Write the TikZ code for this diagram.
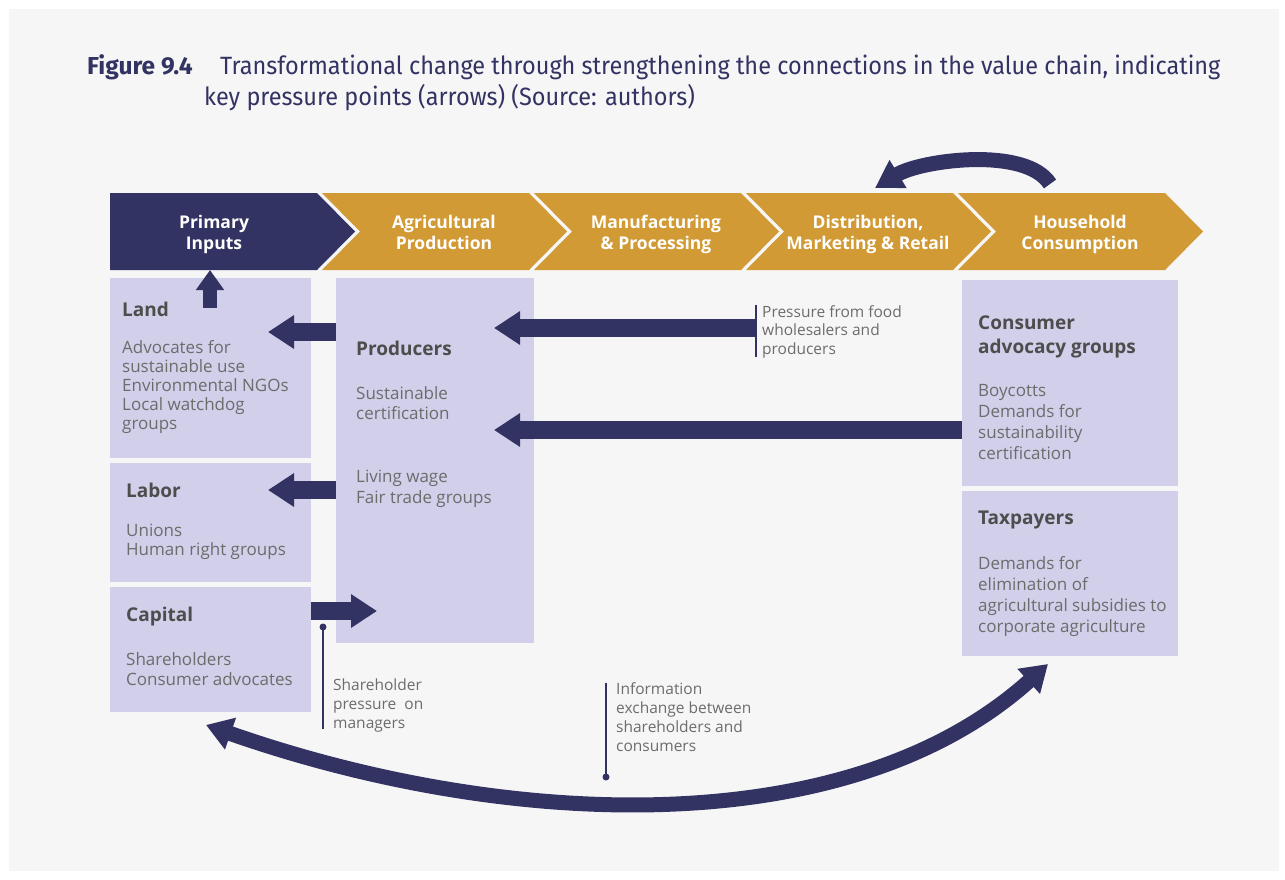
\documentclass[tikz,border=0pt]{standalone}
\usepackage{fontspec}
\setmainfont{Open Sans}
\newfontfamily\titlefont[FakeStretch=0.94]{Fira Sans}
\newfontfamily\figfont{Fira Sans}
\usetikzlibrary{arrows.meta, positioning}

\definecolor{navy}{RGB}{51,51,99}
\definecolor{gold}{RGB}{209,154,52}
\definecolor{lav}{RGB}{209,207,233}
\definecolor{panel}{RGB}{246,246,246}
\definecolor{headgray}{RGB}{77,77,77}
\definecolor{bodygray}{RGB}{108,108,108}

% multi-line nodes: base = baseline of the last line
\tikzset{
  box/.style={fill=lav, anchor=north west, inner sep=0pt},
  headtxt/.style={anchor=base west, inner sep=0pt, text=headgray, align=left,
    font=\fontsize{19}{23.5}\selectfont\bfseries},
  bodytxt/.style={anchor=base west, inner sep=0pt, text=bodygray, align=left,
    font=\fontsize{17}{19}\selectfont},
  notetxt/.style={anchor=base west, inner sep=0pt, text=bodygray, align=left,
    font=\fontsize{15.5}{19}\selectfont},
  stagetxt/.style={anchor=base, inner sep=0pt, text=white, align=center,
    font=\fontsize{17.5}{21}\selectfont\bfseries},
  titletxt/.style={anchor=base west, inner sep=0pt, text=navy,
    font=\titlefont\fontsize{25}{31}\selectfont},
  blockarrow/.style={navy, line width=18pt, -{Triangle[length=26pt,width=32pt]}},
  bendarrow/.style={navy, line width=15pt},
  pin/.style={navy, line width=1.8pt},
}

\begin{document}
\begin{tikzpicture}[x=1pt, y=-1pt]
    \useasboundingbox (0,0) rectangle (1285,879);
    \fill[white] (0,0) rectangle (1285,879);
    \fill[panel] (9,9) rectangle (1279,871);

    % title
    \node[titletxt, font=\figfont\fontsize{24.5}{31}\selectfont\bfseries] (fig) at (87,74) {Figure 9.4};
    \node[titletxt] (cap1) at (220,74) {Transformational change through strengthening the connections in the value chain, indicating};
    \node[titletxt] (cap2) at (204,105) {key pressure points (arrows) (Source: authors)};

    % value chain
    \fill[navy] (110,193) -- (317,193) -- (355,231.5) -- (317,270) -- (110,270) -- cycle;
    \node[stagetxt] (prim) at (214,249) {Primary\\Inputs};
    \foreach \x/\nm/\txt in {322/agri/{Agricultural\\Production}, 534/manu/{Manufacturing\\\& Processing},
        746/dist/{Distribution,\\Marketing \& Retail}, 958/hous/{Household\\Consumption}}
    {
        \fill[gold] (\x,193) -- ++(207,0) -- ++(38,38.5) -- ++(-38,38.5) -- ++(-207,0) -- ++(38,-38.5) -- cycle;
        \node[stagetxt] (\nm) at (\x+122,249.5) {\txt};
    }

    % boxes
    \node[box, minimum width=201pt, minimum height=180pt] (land) at (110,278) {};
    \node[box, minimum width=201pt, minimum height=119pt] (labor) at (110,463) {};
    \node[box, minimum width=201pt, minimum height=125pt] (capital) at (110,587) {};
    \node[box, minimum width=198pt, minimum height=365pt] (prod) at (336,278) {};
    \node[box, minimum width=216pt, minimum height=206pt] (cons) at (962,280) {};
    \node[box, minimum width=216pt, minimum height=165pt] (tax) at (962,491) {};

    \node[headtxt] (landh) at (122,316) {Land};
    \node[bodytxt] (landb) at (122,429) {Advocates for\\sustainable use\\Environmental NGOs\\Local watchdog\\groups};
    \node[headtxt] (laborh) at (126,497) {Labor};
    \node[bodytxt] (laborb) at (126,555) {Unions\\Human right groups};
    \node[headtxt] (caph) at (126,621) {Capital};
    \node[bodytxt, font=\fontsize{17}{20}\selectfont] (capb) at (126,685) {Shareholders\\Consumer advocates};
    \node[headtxt] (prodh) at (356,355) {Producers};
    \node[bodytxt, font=\fontsize{17}{20}\selectfont] (prodb1) at (356,419) {Sustainable\\certification};
    \node[bodytxt, font=\fontsize{17}{21}\selectfont] (prodb2) at (356,503) {Living wage\\Fair trade groups};
    \node[headtxt] (consh) at (978,353) {Consumer\\advocacy groups};
    \node[bodytxt, font=\fontsize{17}{20.7}\selectfont] (consb) at (978,459) {Boycotts\\Demands for\\sustainability\\certification};
    \node[headtxt] (taxh) at (978,524) {Taxpayers};
    \node[bodytxt, font=\fontsize{17}{21}\selectfont] (taxb) at (978,632) {Demands for\\elimination of\\agricultural subsidies to\\corporate agriculture};

    % notes
    \node[notetxt, font=\fontsize{15.5}{18.5}\selectfont] (pressnote) at (762,354) {Pressure from food\\wholesalers and\\producers};
    \node[notetxt] (sharenote) at (333,728) {Shareholder\\pressure~ on\\managers};
    \node[notetxt] (infonote) at (616,751) {Information\\exchange between\\shareholders and\\consumers};

    % pressure arrows
    \coordinate (primbase) at (210,270);
    \coordinate (landtip) at (268,332);
    \coordinate (labortip) at (268,490);
    \coordinate (prodtip) at (377,611);
    \coordinate (whole) at (756,328);
    \coordinate (wholetip) at (494,328);
    \coordinate (constip) at (494,430);
    \draw[navy, line width=14pt, -{Triangle[length=20pt,width=27pt]}] (210,308) -- (primbase);
    \draw[blockarrow] (prod.west |- landtip) -- (landtip);
    \draw[blockarrow] (prod.west |- labortip) -- (labortip);
    \draw[blockarrow] (capital.east |- prodtip) -- (prodtip);
    \draw[blockarrow] (whole) -- (wholetip);
    \draw[blockarrow] (cons.west |- constip) -- (constip);

    % bent arrows
    \coordinate (houstail) at (1050,184);
    \coordinate (disttip) at (875,188);
    \coordinate (captip) at (206,725);
    \coordinate (taxtip) at (1048,664);
    \draw[bendarrow, -{Triangle[length=27pt,width=31pt]}] (houstail) .. controls (1026,146) and (921,160) .. (disttip);
    \draw[bendarrow, {Triangle[length=26pt,width=32pt]}-{Triangle[length=26pt,width=32pt]}]
        (captip) .. controls (506,830) and (848,844) .. (taxtip);

    % pins
    \draw[pin] (756,305) -- (756,357);
    \coordinate (sharedot) at (323,627);
    \coordinate (infodot) at (606,777);
    \draw[pin] (sharedot) -- (323,729);
    \fill[navy] (sharedot) circle (3.5pt);
    \draw[pin] (606,683) -- (infodot);
    \fill[navy] (infodot) circle (3.5pt);
\end{tikzpicture}
\end{document}
